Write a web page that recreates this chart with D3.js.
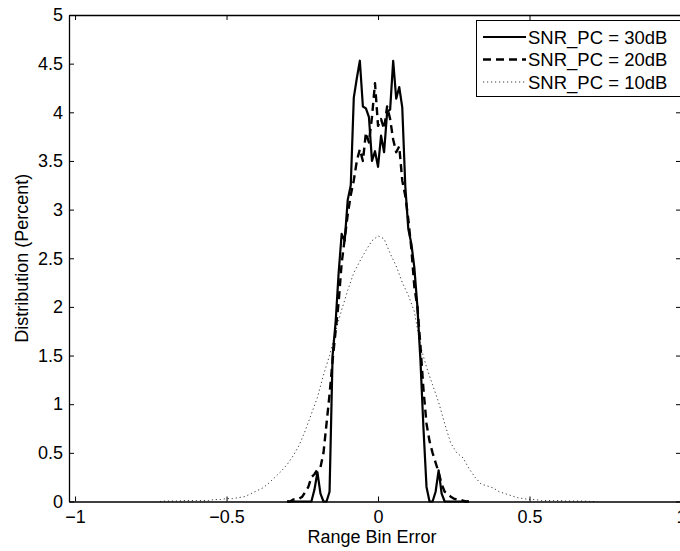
<!DOCTYPE html>
<html>
<head>
<meta charset="utf-8">
<script src="https://cdn.jsdelivr.net/npm/d3@7"></script>
<style>
  body { margin: 0; background: #fff; }
  text { font-family: "Liberation Sans", Arial, sans-serif; }
</style>
</head>
<body>
<div id="chart"></div>
<script>
// bin centres (range bin error) for the 30dB and 20dB curves
var binsFine = [-0.30, -0.29, -0.28, -0.27, -0.26, -0.25, -0.24, -0.23, -0.22, -0.21,
  -0.20, -0.19, -0.18, -0.17, -0.16, -0.15, -0.14, -0.13, -0.12, -0.11,
  -0.10, -0.09, -0.08, -0.07, -0.06, -0.05, -0.04, -0.03, -0.02, -0.01,
  0.00, 0.01, 0.02, 0.03, 0.04, 0.05, 0.06, 0.07, 0.08, 0.09,
  0.10, 0.11, 0.12, 0.13, 0.14, 0.15, 0.16, 0.17, 0.18, 0.19,
  0.20, 0.21, 0.22, 0.23, 0.24, 0.25, 0.26, 0.27, 0.28, 0.29, 0.30];

var snr30 = [0, 0, 0, 0, 0, 0, 0, 0, 0, 0.12,
  0.3, 0.08, 0, 0, 0.1, 1.5, 1.84, 2.35, 2.75, 2.68,
  3.1, 3.25, 4.15, 4.35, 4.53, 4.06, 4.04, 3.95, 3.5, 3.6,
  3.44, 3.76, 3.59, 4.0, 4.03, 4.53, 4.14, 4.26, 4.05, 3.24,
  2.8, 2.65, 2.4, 2.0, 1.45, 0.75, 0.15, 0, 0, 0.1,
  0.32, 0.08, 0, 0, 0, 0, 0, 0, 0, 0, 0];

var snr20 = [0, 0, 0.02, 0.02, 0.03, 0.05, 0.1, 0.15, 0.25, 0.28,
  0.33, 0.35, 0.5, 0.8, 1.1, 1.45, 1.75, 2.05, 2.45, 2.7,
  2.95, 3.15, 3.3, 3.5, 3.62, 3.5, 3.79, 3.69, 3.95, 4.3,
  3.86, 3.93, 3.83, 4.06, 3.93, 3.72, 3.59, 3.65, 3.3, 3.14,
  2.9, 2.6, 2.2, 2.0, 1.6, 1.15, 0.8, 0.62, 0.5, 0.4,
  0.3, 0.18, 0.1, 0.08, 0.05, 0.03, 0.02, 0.02, 0.01, 0, 0];

// coarser bins for the 10dB curve
var binsWide = [-0.72, -0.70, -0.68, -0.66, -0.64, -0.62, -0.60, -0.58, -0.56, -0.54,
  -0.52, -0.50, -0.48, -0.46, -0.44, -0.42, -0.40, -0.38, -0.36, -0.34,
  -0.32, -0.30, -0.28, -0.26, -0.24, -0.22, -0.20, -0.18, -0.16, -0.14,
  -0.12, -0.10, -0.08, -0.06, -0.04, -0.02, 0.00, 0.02, 0.04, 0.06,
  0.08, 0.10, 0.12, 0.14, 0.16, 0.18, 0.20, 0.22, 0.24, 0.26,
  0.28, 0.30, 0.32, 0.34, 0.36, 0.38, 0.40, 0.42, 0.44, 0.46,
  0.48, 0.50, 0.52, 0.54, 0.56, 0.58, 0.60, 0.62, 0.64, 0.66,
  0.68, 0.70, 0.72];

var snr10 = [0, 0.005, 0.005, 0.005, 0.01, 0.01, 0.01, 0.01, 0.01, 0.02,
  0.02, 0.03, 0.03, 0.04, 0.05, 0.08, 0.11, 0.14, 0.19, 0.25,
  0.31, 0.38, 0.47, 0.58, 0.73, 0.9, 1.07, 1.3, 1.5, 1.75,
  1.97, 2.17, 2.35, 2.47, 2.58, 2.68, 2.73, 2.7, 2.55, 2.42,
  2.25, 2.12, 1.95, 1.6, 1.38, 1.2, 1.02, 0.8, 0.6, 0.5,
  0.45, 0.34, 0.25, 0.18, 0.16, 0.14, 0.1, 0.08, 0.06, 0.04,
  0.03, 0.02, 0.02, 0.01, 0.01, 0.01, 0.01, 0.005, 0.005, 0.005,
  0.005, 0, 0];

var xTicks = [-1, -0.5, 0, 0.5, 1];
var yTicks = [0, 0.5, 1, 1.5, 2, 2.5, 3, 3.5, 4, 4.5, 5];
var legendLabels = ["SNR_PC = 30dB", "SNR_PC = 20dB", "SNR_PC = 10dB"];

(function() {
  var width = 680, height = 551;
  var left = 69, right = 681, top = 15, bottom = 501.5;

  var svg = d3.select("#chart")
    .append("svg")
    .attr("width", width)
    .attr("height", height);

  var x = d3.scaleLinear().domain([-1.02, 1]).range([left, right]);
  var y = d3.scaleLinear().domain([0, 5]).range([bottom, top]);

  var styles = [
    { bins: binsFine, vals: snr30, w: 2.2, dash: null, col: "#000" },
    { bins: binsFine, vals: snr20, w: 2.4, dash: "8,5", col: "#000" },
    { bins: binsWide, vals: snr10, w: 0.9, dash: "1.2,2.8", col: "#222" }
  ];

  var line = d3.line()
    .x(function(d) { return x(d[0]); })
    .y(function(d) { return y(d[1]); });

  // curves (10dB first so the heavy ones sit on top)
  styles.slice().reverse().forEach(function(s) {
    var pts = s.bins.map(function(b, i) { return [b, s.vals[i]]; });
    svg.append("path")
      .datum(pts)
      .attr("d", line)
      .attr("fill", "none")
      .attr("stroke", s.col)
      .attr("stroke-width", s.w)
      .attr("stroke-dasharray", s.dash)
      .attr("stroke-linejoin", "round");
  });

  // axes box, ticks pointing inwards like matlab
  var fmt = function(d) { return d < 0 ? "\u2212" + Math.abs(d) : "" + d; };

  svg.append("g")
    .attr("transform", "translate(0," + bottom + ")")
    .call(d3.axisBottom(x).tickValues(xTicks).tickSizeInner(-5).tickSizeOuter(0).tickPadding(9).tickFormat(fmt))
    .call(function(g) {
      g.select(".domain").attr("stroke-width", 1.3);
      g.selectAll("text").attr("font-size", 18).attr("fill", "#000");
    });

  svg.append("g")
    .attr("transform", "translate(0," + top + ")")
    .call(d3.axisTop(x).tickValues(xTicks).tickSizeInner(-5).tickSizeOuter(0).tickFormat(""))
    .call(function(g) { g.select(".domain").attr("stroke-width", 1.3); });

  svg.append("g")
    .attr("transform", "translate(" + left + ",0)")
    .call(d3.axisLeft(y).tickValues(yTicks).tickSizeInner(-5).tickSizeOuter(0).tickPadding(6).tickFormat(fmt))
    .call(function(g) {
      g.select(".domain").attr("stroke-width", 1.3);
      g.selectAll("text").attr("font-size", 18).attr("fill", "#000");
    });

  svg.append("g")
    .attr("transform", "translate(" + right + ",0)")
    .call(d3.axisRight(y).tickValues(yTicks).tickSizeInner(-5).tickSizeOuter(0).tickFormat(""));

  // axis titles
  svg.append("text")
    .attr("x", (left + right) / 2 - 3)
    .attr("y", 543)
    .attr("text-anchor", "middle")
    .attr("font-size", 18)
    .text("Range Bin Error");

  svg.append("text")
    .attr("transform", "translate(28," + ((top + bottom) / 2) + ") rotate(-90)")
    .attr("text-anchor", "middle")
    .attr("font-size", 18)
    .text("Distribution (Percent)");

  // legend
  var lg = svg.append("g");
  lg.append("rect")
    .attr("x", 476.5).attr("y", 20.5)
    .attr("width", 210).attr("height", 76)
    .attr("fill", "#fff").attr("stroke", "#000").attr("stroke-width", 1);

  legendLabels.forEach(function(lab, i) {
    var s = styles[i];
    var yy = 37 + i * 22.5;
    lg.append("line")
      .attr("x1", 483).attr("x2", 526)
      .attr("y1", yy).attr("y2", yy)
      .attr("stroke", s.col)
      .attr("stroke-width", s.w)
      .attr("stroke-dasharray", s.dash);
    lg.append("text")
      .attr("x", 528)
      .attr("y", yy)
      .attr("dy", "0.36em")
      .attr("font-size", 18.5)
      .text(lab);
  });
})();
</script>
</body>
</html>
